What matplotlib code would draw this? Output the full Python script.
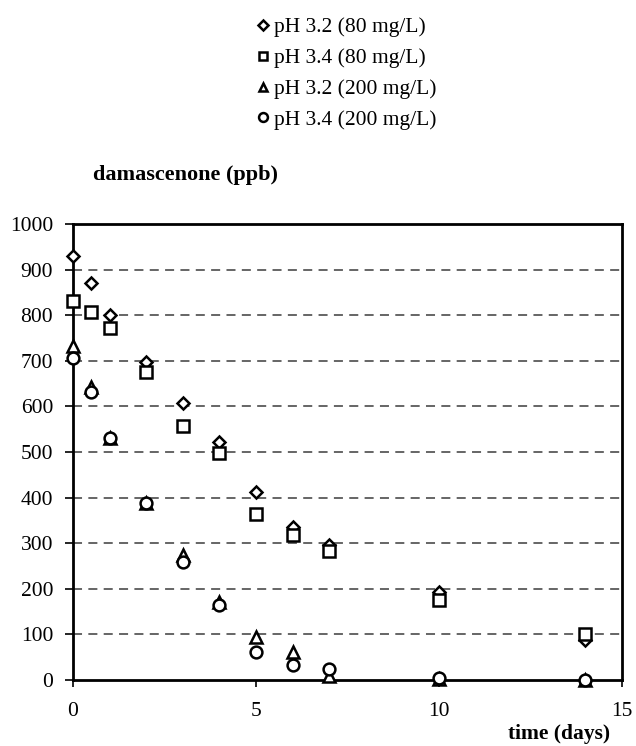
import matplotlib.pyplot as plt

time_days = [0, 0.5, 1, 2, 3, 4, 5, 6, 7, 10, 14]
ph32_80 = [930, 870, 800, 697, 608, 522, 412, 335, 295, 193, 88]
ph34_80 = [832, 808, 772, 675, 558, 497, 365, 318, 283, 175, 100]
ph32_200 = [733, 642, 530, 388, 275, 172, 95, 62, 8, 2, 0]
ph34_200 = [707, 632, 530, 388, 258, 165, 62, 33, 25, 5, 0]

SERIES = [
    ("pH 3.2 (80 mg/L)", ph32_80, "D", 6.5),
    ("pH 3.4 (80 mg/L)", ph34_80, "s", 8),
    ("pH 3.2 (200 mg/L)", ph32_200, "^", 8),
    ("pH 3.4 (200 mg/L)", ph34_200, "o", 8.5),
]

plt.rcParams["font.family"] = ["Liberation Serif", "DejaVu Serif"]

fig = plt.figure(figsize=(6.36, 7.46), dpi=100)
ax = fig.add_axes([73 / 636, 1 - 680 / 746, (622 - 73) / 636, (680 - 224) / 746])

handles = []
for label, vals, marker, ms in SERIES:
    h, = ax.plot(time_days, vals, linestyle="none", marker=marker, markersize=ms,
                 markerfacecolor="white", markeredgecolor="black",
                 markeredgewidth=1.8, label=label, clip_on=False, zorder=3)
    handles.append(h)

ax.set_xlim(0, 15)
ax.set_ylim(0, 1000)
ax.set_xticks([0, 5, 10, 15])
ax.set_yticks(range(0, 1001, 100))
for y in range(100, 1000, 100):
    ax.axhline(y, color="0.35", linewidth=1.3, linestyle=(0, (5, 3.5)), zorder=1)

for sp in ax.spines.values():
    sp.set_linewidth(2)
ax.tick_params(direction="out", length=5.8, width=1.2, labelsize=15.5, pad=8.5)
ax.tick_params(axis="x", length=5, pad=11)

fig.text(93 / 636, 1 - 175 / 746, "damascenone (ppb)", fontsize=16,
         fontweight="bold", ha="left", va="center")
fig.text(610 / 636, 1 - 734 / 746, "time (days)", fontsize=15.5,
         fontweight="bold", ha="right", va="center")

fig.legend(handles=handles, loc="upper left", bbox_to_anchor=(244 / 636, 0.994),
           frameon=False, fontsize=15.5, handlelength=0.6, handletextpad=0.2,
           labelspacing=0.5, markerscale=0.75, borderaxespad=0.2)

fig.savefig("out.png", dpi=100)
